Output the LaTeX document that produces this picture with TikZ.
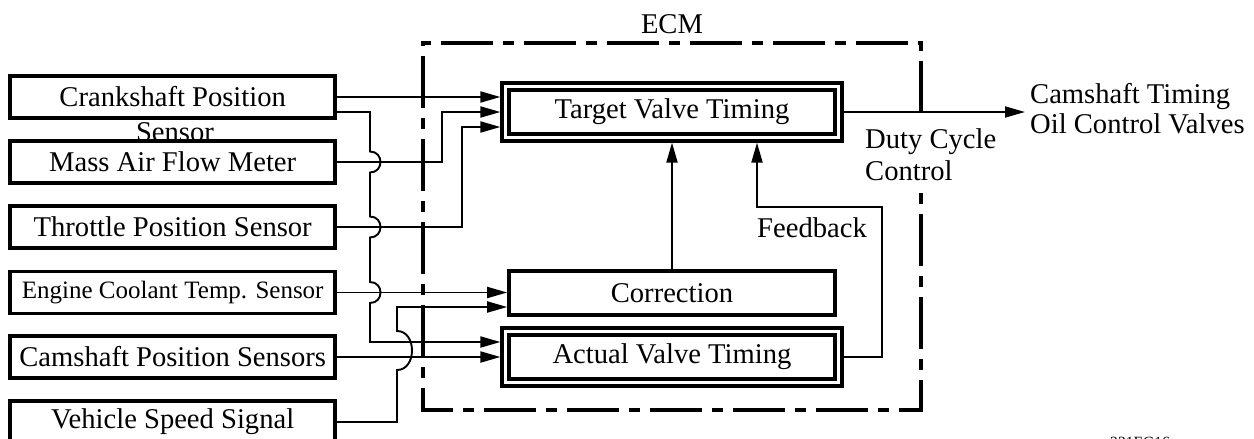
\documentclass[tikz,border=0pt]{standalone}
\usepackage{fontspec}
\setmainfont{Liberation Serif}
\usetikzlibrary{arrows.meta,calc}
\newcommand\bigf{\fontsize{28.6}{34}\selectfont}
\newcommand\medf{\fontsize{25}{30}\selectfont}
\newcommand\smallf{\fontsize{15.6}{18}\selectfont}
\tikzset{
  box/.style={draw, line width=3.5pt, fill=white, minimum width=325pt, minimum height=42pt, inner sep=0pt, font=\bigf},
  dbox/.style={draw, line width=3.4pt, double=white, double distance=3.4pt, fill=white, minimum width=333pt, minimum height=51pt, inner sep=0pt, outer sep=5.1pt, font=\bigf},
  sbox/.style={draw, line width=3.6pt, fill=white, minimum width=326pt, minimum height=44pt, inner sep=0pt, font=\bigf},
  conn/.style={line width=1.9pt},
  arr/.style={conn, -{Triangle[length=20pt,width=11pt]}},
  ecmframe/.style={line width=3.3pt, dash pattern=on 52pt off 10pt on 11pt off 10pt},
  lbl/.style={font=\bigf, inner sep=0pt}
}
\begin{document}
\begin{tikzpicture}[x=1pt,y=-1pt]
\useasboundingbox (0,0) rectangle (1254,439);

% ECM frame (gap where the Duty Cycle Control label sits)
\draw[ecmframe] (921,113) -- (921,43) -- (423,43) -- (423,410) -- (921,410) -- (921,192);
\node[lbl, anchor=base] (ecm) at (672,33) {ECM};

% left input boxes
\node[box] (crank) at (172.7,97) {Crankshaft Position};
\node[lbl, anchor=base] (crank2) at (175,141) {Sensor};
\node[box] (maf) at (172.7,162) {Mass Air Flow Meter};
\node[box] (tps) at (172.7,227) {Throttle Position Sensor};
\node[box, font=\medf] (ecs) at (172.7,292.5) {Engine Coolant Temp. Sensor};
\node[box] (cam) at (172.7,357) {Camshaft Position Sensors};
\node[box] (vss) at (172.7,422) {Vehicle Speed Signal};

% ECM internal blocks
\node[dbox] (target) at (672,112) {Target Valve Timing};
\node[sbox] (corr) at (672,293) {Correction};
\node[dbox] (actual) at (672,357) {Actual Valve Timing};

% inputs to target
\draw[arr] (crank.east) -- ($(target.west)+(0,-15)$);
\draw[arr] (maf.east) -- (442,162) -- (442,112) -- (target.west);
\draw[arr] (tps.east) -- (462,227) -- (462,127) -- ($(target.west)+(0,15)$);

% crankshaft to actual, jumping over the crossing lines
\coordinate (cj) at (370,342);
\draw[arr] ($(crank.east)+(0,15)$) -- (370,112)
  -- (370,151.5) .. controls (384,151.5) and (384,172.5) .. (370,172.5)
  -- (370,216.5) .. controls (384,216.5) and (384,237.5) .. (370,237.5)
  -- (370,282) .. controls (384,282) and (384,303) .. (370,303)
  -- (cj) -- ($(actual.west)+(0,-15)$);

% inputs to correction
\draw[arr] (ecs.east) -- (corr.west |- ecs.east);
\draw[arr] (vss.east) -- (397,422) -- (397,370)
  .. controls (417,370) and (417,331) .. (397,331)
  -- (397,307) -- ($(corr.west)+(0,14)$);

% camshaft to actual
\draw[arr] (cam.east) -- (actual.west |- cam.east);

% correction to target
\draw[arr] (corr.north) -- (target.south);

% feedback
\coordinate (fb1) at (882,357);
\coordinate (fb2) at (882,207);
\coordinate (fb3) at (757,207);
\draw[arr] (actual.east) -- (fb1) -- (fb2) -- (fb3) -- ($(target.south)+(85,0)$);
\node[lbl, anchor=base west] (fb) at (757,237) {Feedback};

% output
\coordinate (outend) at (1025,112);
\draw[arr] (target.east) -- (outend);
\node[lbl, anchor=base west] (out1) at (1030,103) {Camshaft Timing};
\node[lbl, anchor=base west] (out2) at (1030,133) {Oil Control Valves};
\node[lbl, anchor=base west] (duty1) at (865,148) {Duty Cycle};
\node[lbl, anchor=base west] (duty2) at (865,180) {Control};

% figure code (cut at page edge, as in the reference)
\node[font=\smallf, inner sep=0pt, anchor=north west] (code) at (1110,436.5) {221EG16};
\end{tikzpicture}
\end{document}
